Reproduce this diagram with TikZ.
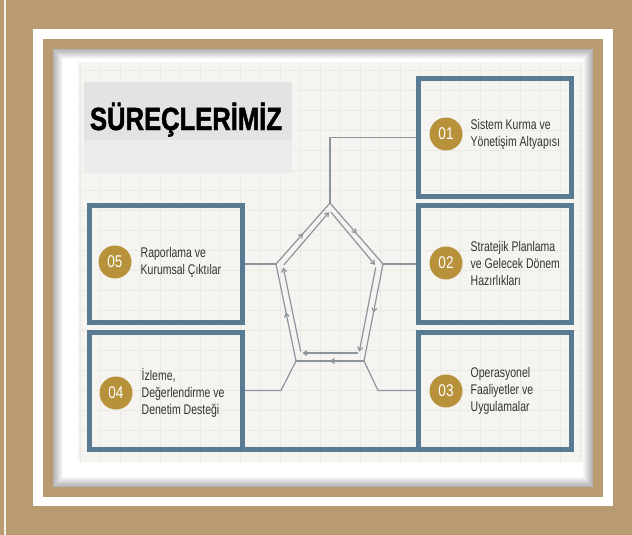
\documentclass[tikz,border=0pt]{standalone}
\usepackage{fontspec}
\setmainfont{Liberation Sans}
\newfontfamily\boxfont[FakeStretch=0.75]{Liberation Sans}
\newfontfamily\numfont[FakeStretch=0.8]{Liberation Sans}
\newfontfamily\titlefont[FakeStretch=0.8,FakeBold=1.5]{Liberation Sans}
\usetikzlibrary{arrows.meta,decorations.markings,positioning}
\definecolor{frametan}{HTML}{B89B70}
\definecolor{boxblue}{HTML}{587A92}
\definecolor{discgold}{HTML}{B8913B}
\definecolor{connline}{HTML}{8C959B}
\definecolor{gridbg}{HTML}{F5F4F0}
\definecolor{gridline}{HTML}{EAE9E4}
\definecolor{titlegray}{HTML}{E4E3E4}
\definecolor{titlegraylow}{HTML}{ECEBEC}
\definecolor{boxtextcol}{HTML}{333333}

\begin{document}
\begin{tikzpicture}[x=1pt,y=-1pt,line width=1.2pt,
  procbox/.style={draw=boxblue,line width=5pt,minimum width=153pt,
    minimum height=117pt,inner sep=0pt,outer sep=0pt},
  numdisc/.style={circle,fill=discgold,minimum size=33pt,inner sep=0pt,
    text=white,font=\numfont\fontsize{17pt}{20pt}\selectfont},
  boxtext/.style={align=left,inner sep=0pt,text=boxtextcol,
    font=\boxfont\fontsize{14pt}{17pt}\selectfont},
  conn/.style={draw=connline,line width=1.2pt},
  tip/.style={-{Straight Barb[length=3.5pt,width=5pt]}},
  midarrow/.style={postaction={decorate,decoration={markings,
    mark=at position 0.5 with {\arrow{Straight Barb[length=3.5pt,width=5pt]}}}}}]
  \useasboundingbox (0,0) rectangle (632,535);
  \fill[frametan] (0,0) rectangle (632,535);
  \draw[white!85!frametan,line width=1.5pt] (5,0) -- (5,535);
  \fill[white] (33,29) rectangle (613,506);
  \fill[frametan] (43,39) rectangle (603,497);
  \fill[white] (53,49) rectangle (593,487);
  \foreach \i [evaluate=\i as \op using (10-\i)*0.03] in {0,...,9}
    \draw[line width=1pt,draw=black,draw opacity=\op]
      (53.5+\i,49.5+\i) rectangle (592.5-\i,486.5-\i);

  \fill[gridbg] (78,62) rectangle (583,462);
  \foreach \x in {80,100,...,580}
    \draw[gridline,line width=0.6pt] (\x,62) -- (\x,462);
  \foreach \y in {70,90,...,450}
    \draw[gridline,line width=0.6pt] (78,\y) -- (583,\y);

  \fill[titlegray] (84,82) rectangle (292,140);
  \fill[titlegraylow] (84,140) rectangle (292,173);
  \node[anchor=base,inner sep=0pt,
    font=\titlefont\bfseries\fontsize{32pt}{36pt}\selectfont] (title)
    at (186,130) {SÜREÇLERİMİZ};

  \node[procbox] (b1) at (495,137.5) {};
  \node[procbox] (b2) at (495,264) {};
  \node[procbox] (b3) at (495,390.5) {};
  \node[procbox] (b5) at (166,264) {};
  \node[procbox] (b4) at (166,390.5) {};
  \draw[boxblue,line width=5pt] (b4.south west) -- (b3.south east);

  \node[numdisc] (c1) at (446,134) {01};
  \node[numdisc] (c2) at (446,263) {02};
  \node[numdisc] (c3) at (446,391) {03};
  \node[numdisc] (c5) at (115,262) {05};
  \node[numdisc] (c4) at (116,393) {04};
  \node[boxtext,anchor=west,right=7pt of c1] (t1)
    {Sistem Kurma ve\\Yönetişim Altyapısı};
  \node[boxtext,anchor=west,right=7pt of c2] (t2)
    {Stratejik Planlama\\ve Gelecek Dönem\\Hazırlıkları};
  \node[boxtext,anchor=west,right=7pt of c3] (t3)
    {Operasyonel\\Faaliyetler ve\\Uygulamalar};
  \node[boxtext,anchor=west,right=8pt of c5] (t5)
    {Raporlama ve\\Kurumsal Çıktılar};
  \node[boxtext,anchor=west,right=8pt of c4] (t4)
    {İzleme,\\Değerlendirme ve\\Denetim Desteği};

  \coordinate (pt) at (330,203);
  \coordinate (pr) at (383,264);
  \coordinate (pbr) at (364,361);
  \coordinate (pbl) at (296,361);
  \coordinate (pl) at (276,264);
  \coordinate (qt) at (330,211);
  \coordinate (qr) at (376,266);
  \coordinate (qbr) at (359,353);
  \coordinate (qbl) at (301,353);
  \coordinate (ql) at (283,266);
  \coordinate (k3) at (378,390.5);
  \coordinate (k4) at (281,390.5);

  \foreach \a/\b in {pl/pt,pt/pr,pr/pbr,pbr/pbl,pbl/pl}
    \draw[conn,midarrow] (\a) -- (\b);
  \foreach \a/\b in {ql/qt,qt/qr,qr/qbr,qbr/qbl,qbl/ql}
    \draw[conn,tip,shorten <=1.5pt,shorten >=1.5pt] (\a) -- (\b);

  \draw[conn,shorten >=2.5pt] (pt) |- (b1.west);
  \draw[conn,shorten >=2.5pt] (pr) -- (b2.west);
  \draw[conn,shorten >=2.5pt] (pl) -- (b5.east);
  \draw[conn,shorten >=2.5pt] (pbr) -- (k3) -- (b3.west);
  \draw[conn,shorten >=2.5pt] (pbl) -- (k4) -- (b4.east);
\end{tikzpicture}
\end{document}
